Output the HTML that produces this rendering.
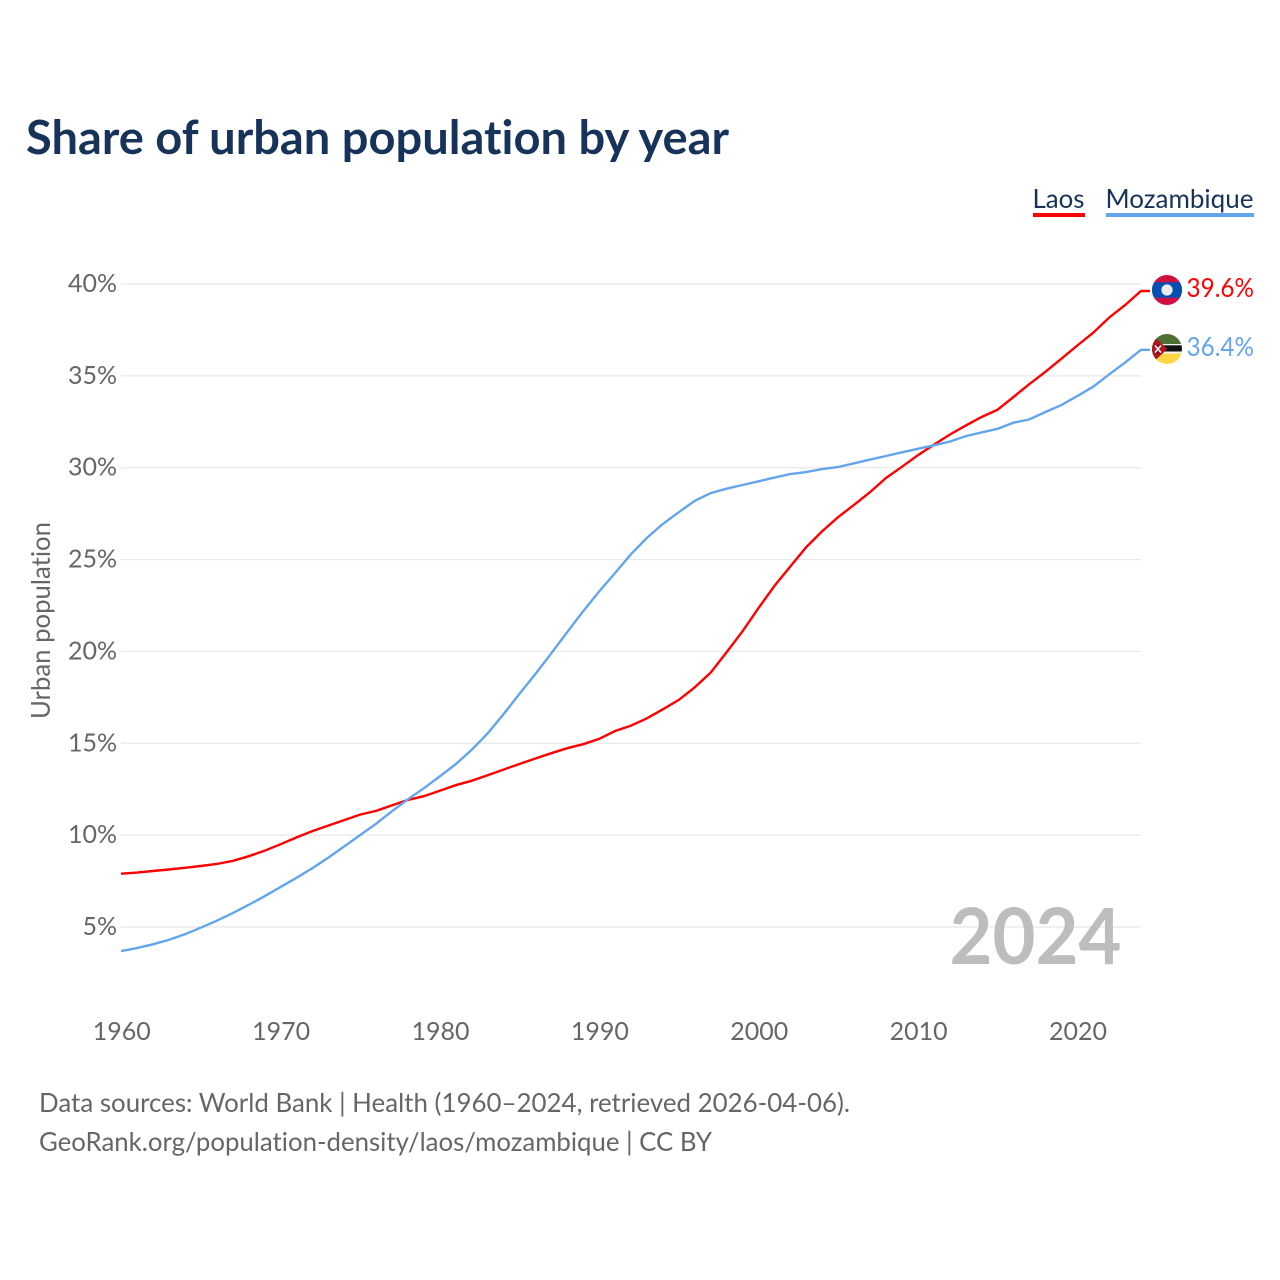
<!DOCTYPE html>
<html lang="en">
<head>
<meta charset="utf-8">
<title>Share of urban population by year</title>
<style>
html,body{margin:0;padding:0;background:#fff;}
svg{display:block;}
text{font-family:"Lato","Carlito","Liberation Sans",sans-serif;font-variant-ligatures:none;font-feature-settings:"liga" 0,"dlig" 0,"clig" 0;}
</style>
</head>
<body>
<svg id="chart" xmlns="http://www.w3.org/2000/svg" width="1280" height="1280" viewBox="0 0 1280 1280">
  <defs>
    <clipPath id="clip-laos"><circle cx="1167" cy="290" r="15"/></clipPath>
    <clipPath id="clip-moz"><circle cx="1167" cy="349" r="15"/></clipPath>
  </defs>
  <rect width="1280" height="1280" fill="#fff"/>
  <text x="26" y="154" font-size="47" font-weight="700" fill="#17335a" textLength="703" lengthAdjust="spacingAndGlyphs">Share of urban population by year</text>

  <g>
    <text x="1032.5" y="208" font-size="26" fill="#17335a" textLength="52" lengthAdjust="spacingAndGlyphs">Laos</text>
    <rect x="1033" y="213" width="52" height="4" fill="#ff0000"/>
  </g>
  <g>
    <text x="1105.5" y="208" font-size="26" fill="#17335a" textLength="148" lengthAdjust="spacingAndGlyphs">Mozambique</text>
    <rect x="1106" y="213" width="148" height="4" fill="#63a5ec"/>
  </g>

  <g id="grid"></g>
  <g id="yticks"></g>
  <g id="xticks"></g>
  <text transform="translate(50,620.5) rotate(-90)" text-anchor="middle" font-size="26" fill="#666666" textLength="197" lengthAdjust="spacingAndGlyphs">Urban population</text>

  <text x="1121.5" y="964" text-anchor="end" font-size="78" font-weight="700" fill="#bdbdbd" textLength="172" lengthAdjust="spacingAndGlyphs">2024</text>

  <g id="series"></g>

  <g clip-path="url(#clip-laos)">
    <rect x="1150" y="274" width="34" height="32" fill="#ce1141"/>
    <rect x="1150" y="282.3" width="34" height="15.4" fill="#0650b4"/>
    <circle cx="1167" cy="290" r="5.6" fill="#ececec"/>
  </g>
  <g clip-path="url(#clip-moz)">
    <rect x="1150" y="333" width="34" height="11" fill="#4d6f33"/>
    <rect x="1150" y="344" width="34" height="1.4" fill="#f2f2f2"/>
    <rect x="1150" y="345.3" width="34" height="6.2" fill="#111111"/>
    <rect x="1150" y="351.5" width="34" height="2" fill="#f2f2f2"/>
    <rect x="1150" y="353.5" width="34" height="12" fill="#fdd746"/>
    <polygon points="1150,333 1167.5,349 1150,365" fill="#b0141f"/>
    <path d="M1155 345.5l6 7M1161 345.5l-6 7" stroke="#f8f8f8" stroke-width="1.5"/>
    <path d="M1158 344.5v1.6M1158 352v1.6" stroke="#1a1a1a" stroke-width="1.4"/>
  </g>

  <text x="1186.5" y="297" font-size="26" fill="#ff0000" textLength="67.5" lengthAdjust="spacingAndGlyphs">39.6%</text>
  <text x="1186.5" y="356" font-size="26" fill="#63a5ec" textLength="67.5" lengthAdjust="spacingAndGlyphs">36.4%</text>

  <text x="39" y="1112" font-size="26" fill="#666666" textLength="811" lengthAdjust="spacingAndGlyphs">Data sources: World Bank | Health (1960–2024, retrieved 2026-04-06).</text>
  <text x="39" y="1151" font-size="26" fill="#666666" textLength="673" lengthAdjust="spacingAndGlyphs">GeoRank.org/population-density/laos/mozambique | CC BY</text>
</svg>
<script>
var years = [1960,1961,1962,1963,1964,1965,1966,1967,1968,1969,1970,1971,1972,1973,1974,1975,1976,1977,1978,1979,1980,1981,1982,1983,1984,1985,1986,1987,1988,1989,1990,1991,1992,1993,1994,1995,1996,1997,1998,1999,2000,2001,2002,2003,2004,2005,2006,2007,2008,2009,2010,2011,2012,2013,2014,2015,2016,2017,2018,2019,2020,2021,2022,2023,2024];
var laosValues = [7.9,7.96,8.05,8.13,8.22,8.32,8.43,8.6,8.85,9.15,9.5,9.87,10.22,10.52,10.82,11.12,11.32,11.62,11.92,12.12,12.42,12.72,12.96,13.26,13.57,13.87,14.17,14.46,14.73,14.95,15.24,15.67,15.96,16.36,16.85,17.36,18.05,18.85,19.96,21.1,22.36,23.56,24.63,25.68,26.55,27.31,27.98,28.67,29.44,30.05,30.68,31.25,31.8,32.29,32.76,33.16,33.85,34.55,35.22,35.93,36.65,37.35,38.17,38.85,39.62];
var mozambiqueValues = [3.69,3.85,4.06,4.3,4.6,4.96,5.34,5.75,6.2,6.67,7.17,7.67,8.2,8.77,9.38,10.0,10.62,11.3,11.95,12.55,13.2,13.86,14.64,15.54,16.58,17.69,18.77,19.9,21.06,22.19,23.26,24.27,25.29,26.18,26.94,27.58,28.2,28.62,28.86,29.06,29.26,29.46,29.66,29.76,29.93,30.04,30.24,30.44,30.64,30.84,31.03,31.22,31.42,31.72,31.92,32.12,32.45,32.63,33.03,33.41,33.9,34.41,35.08,35.72,36.42];
var yTickValues = [5,10,15,20,25,30,35,40];
var xTickValues = [1960,1970,1980,1990,2000,2010,2020];

var NS = 'http://www.w3.org/2000/svg';
function xScale(year){ return 121 + (year - 1960) * (1141 - 121) / (2024 - 1960); }
function yScale(value){ return 927 - (value - 5) * (927 - 284) / (40 - 5); }

var gridGroup = document.getElementById('grid');
var yTickGroup = document.getElementById('yticks');
var xTickGroup = document.getElementById('xticks');
var seriesGroup = document.getElementById('series');

yTickValues.forEach(function(v){
  var line = document.createElementNS(NS, 'line');
  
  
  line.setAttribute('x1', 121);
  line.setAttribute('x2', 1141);
  line.setAttribute('y1', yScale(v));
  line.setAttribute('y2', yScale(v));
  line.setAttribute('stroke', '#e8e8e8');
  line.setAttribute('stroke-width', '1.2');
  gridGroup.appendChild(line);

  var label = document.createElementNS(NS, 'text');
  
  
  label.setAttribute('x', 117);
  label.setAttribute('y', yScale(v) + 8);
  label.setAttribute('text-anchor', 'end');
  label.setAttribute('font-size', '25');
  label.setAttribute('fill', '#666666');
  label.textContent = v + '%';
  yTickGroup.appendChild(label);
});

xTickValues.forEach(function(t){
  var label = document.createElementNS(NS, 'text');
  
  
  label.setAttribute('x', xScale(t) + 0.8);
  label.setAttribute('y', 1040);
  label.setAttribute('text-anchor', 'middle');
  label.setAttribute('font-size', '25');
  label.setAttribute('fill', '#666666');
  label.textContent = t;
  xTickGroup.appendChild(label);
});

function linePoints(values){
  var pts = values.map(function(v, i){ return xScale(years[i]).toFixed(1) + ',' + yScale(v).toFixed(1); });
  var last = values[values.length - 1];
  pts.push('1150,' + yScale(last).toFixed(1));
  return pts.join(' ');
}

var laosLine = document.createElementNS(NS, 'polyline');


laosLine.setAttribute('points', linePoints(laosValues));
laosLine.setAttribute('fill', 'none');
laosLine.setAttribute('stroke', '#ff0000');
laosLine.setAttribute('stroke-width', '2.4');
seriesGroup.appendChild(laosLine);

var mozambiqueLine = document.createElementNS(NS, 'polyline');


mozambiqueLine.setAttribute('points', linePoints(mozambiqueValues));
mozambiqueLine.setAttribute('fill', 'none');
mozambiqueLine.setAttribute('stroke', '#63a5ec');
mozambiqueLine.setAttribute('stroke-width', '2.4');
seriesGroup.appendChild(mozambiqueLine);
</script>
</body>
</html>
